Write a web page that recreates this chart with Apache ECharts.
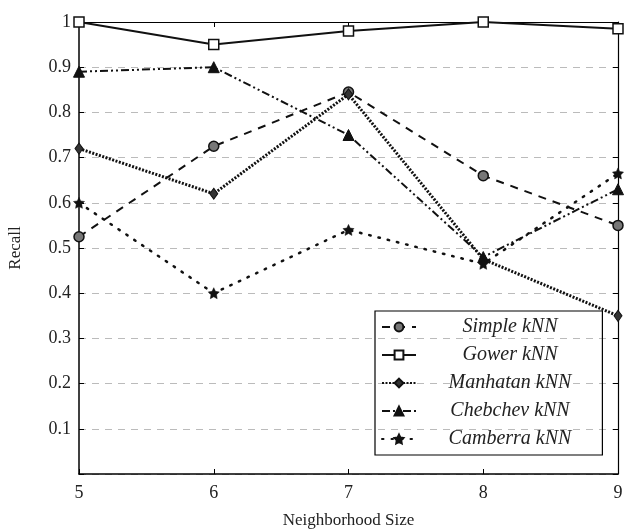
<!DOCTYPE html>
<html><head><meta charset="utf-8">
<script src="https://cdn.jsdelivr.net/npm/echarts@6/dist/echarts.min.js"></script>
<style>html,body{margin:0;padding:0;background:#fff}#c{width:625px;height:531px}</style>
</head><body><div id="c"></div>
<script>
const categories = [5, 6, 7, 8, 9];
const yTicks = [0.1, 0.2, 0.3, 0.4, 0.5, 0.6, 0.7, 0.8, 0.9, 1];
const simpleKNN = [0.525, 0.725, 0.845, 0.66, 0.55];
const gowerKNN = [1.0, 0.95, 0.98, 1.0, 0.985];
const manhatanKNN = [0.72, 0.62, 0.84, 0.475, 0.35];
const chebchevKNN = [0.89, 0.90, 0.75, 0.48, 0.63];
const camberraKNN = [0.60, 0.40, 0.54, 0.465, 0.665];
const seriesNames = ['Simple kNN', 'Gower kNN', 'Manhatan kNN', 'Chebchev kNN', 'Camberra kNN'];

const font = '"Liberation Serif", "DejaVu Serif", serif';
function pts(arr){ return categories.map((x,i)=>[x, arr[i]]); }

const chart = echarts.init(document.getElementById('c'));
chart.setOption({
  animation: false,
  backgroundColor: '#fff',
  grid: {left: 79, right: 7, top: 22, bottom: 57, show: false, outerBoundsMode: 'none', containLabel: false},
  legend: {
    orient: 'vertical', left: 375, top: 311,
    borderColor: '#000', borderWidth: 1.2, padding: [6, 31, 6, 6],
    itemGap: 8, itemWidth: 34, itemHeight: 11,
    formatter: n => '{a|' + n + '}',
    textStyle: {fontFamily: font, fontStyle: 'italic', fontSize: 20, color: '#222',
      rich: {a: {fontFamily: font, fontStyle: 'italic', fontSize: 20, color: '#222', width: 178, align: 'center'}}},
    data: seriesNames
  },
  xAxis: [{
    type: 'value', min: 5, max: 9, interval: 1,
    name: 'Neighborhood Size', nameLocation: 'middle', nameGap: 38,
    nameTextStyle: {fontFamily: font, fontSize: 17, color: '#222'},
    axisLine: {onZero: false, lineStyle: {color: '#000', width: 1.5}},
    axisTick: {inside: true, length: 5, lineStyle: {color: '#000'}},
    axisLabel: {fontFamily: font, fontSize: 18, color: '#222', margin: 10},
    splitLine: {show: false}
  }, {
    type: 'value', min: 5, max: 9, interval: 1, position: 'top',
    axisLine: {show: true, onZero: false, lineStyle: {color: '#000', width: 1.2}},
    axisTick: {show: true, inside: true, length: 5, lineStyle: {color: '#000'}},
    axisLabel: {show: false}, splitLine: {show: false}
  }],
  yAxis: [{
    type: 'value', min: 0, max: 1, interval: 0.1,
    name: 'Recall', nameLocation: 'middle', nameGap: 55,
    nameTextStyle: {fontFamily: font, fontSize: 17, color: '#222'},
    axisLine: {show: true, onZero: false, lineStyle: {color: '#000', width: 1.5}},
    axisTick: {show: true, inside: true, length: 5, lineStyle: {color: '#000'}},
    axisLabel: {fontFamily: font, fontSize: 18, color: '#222', margin: 8,
      formatter: v => { const t = yTicks.find(k => Math.abs(k - v) < 1e-6); return t === undefined ? '' : String(t); }},
    splitLine: {show: true, lineStyle: {color: '#bbb', type: [7, 6], width: 1}},
  }, {
    type: 'value', min: 0, max: 1, interval: 0.1, position: 'right',
    axisLine: {show: true, onZero: false, lineStyle: {color: '#000', width: 1.2}},
    axisTick: {show: true, inside: true, length: 5, lineStyle: {color: '#000'}},
    axisLabel: {show: false}, splitLine: {show: false}
  }],
  series: [
    {name: seriesNames[0], type: 'line', data: pts(simpleKNN), symbol: 'circle', symbolSize: 10,
     itemStyle: {color: '#777', borderColor: '#111', borderWidth: 1.5},
     lineStyle: {color: '#111', width: 2, type: [8, 7]}, z: 3},
    {name: seriesNames[1], type: 'line', data: pts(gowerKNN), symbol: 'rect', symbolSize: 10,
     itemStyle: {color: '#fff', borderColor: '#111', borderWidth: 1.5},
     lineStyle: {color: '#111', width: 2, type: 'solid'}, z: 4},
    {name: seriesNames[2], type: 'line', data: pts(manhatanKNN), symbol: 'diamond', symbolSize: [8, 11],
     itemStyle: {color: '#333', borderColor: '#111', borderWidth: 1},
     lineStyle: {color: '#111', width: 3, type: [2, 1.5]}, z: 3},
    {name: seriesNames[3], type: 'line', data: pts(chebchevKNN), symbol: 'triangle', symbolSize: 11,
     itemStyle: {color: '#111', borderColor: '#111', borderWidth: 1},
     lineStyle: {color: '#111', width: 2, type: [8, 3, 2, 3, 2, 3]}, z: 3},
    {name: seriesNames[4], type: 'line', data: pts(camberraKNN), symbol: 'path://M0,-10 L2.9,-4 L9.5,-3.1 L4.8,1.5 L5.9,8.1 L0,5 L-5.9,8.1 L-4.8,1.5 L-9.5,-3.1 L-2.9,-4 Z', symbolSize: 11,
     itemStyle: {color: '#111', borderColor: '#111', borderWidth: 0.5},
     lineStyle: {color: '#111', width: 2.5, type: [1.5, 8], cap: 'round'}, z: 3}
  ]
});
</script></body></html>
